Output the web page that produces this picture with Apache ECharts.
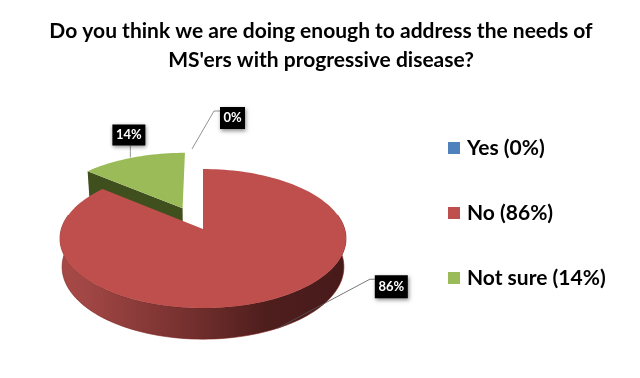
<!DOCTYPE html>
<html><head><meta charset="utf-8">
<style>html,body{margin:0;padding:0;background:#fff}#c{width:640px;height:378px}</style>
<script src="https://cdn.jsdelivr.net/npm/echarts@6/dist/echarts.min.js"></script>
</head><body><div id="c"></div>
<script>
const titleLines = ["Do you think we are doing enough to address the needs of", "MS'ers with progressive disease?"];
const categories = ["Yes (0%)", "No (86%)", "Not sure (14%)"];
const shares = [0, 86, 14];
const colors = ["#4F81BD", "#BE4F4C", "#9BBB59"];
const sideColors = ["#2F4D71", "#8E3432", "#404F1E"];

const explode = [0, 0, 0.353];
const labelLayout = [
  {anchor: [-11, -20], elbow: [22, -38], end: [28, -38], box: [28, -42, 25, 22]},
  {anchor: [7, -2], elbow: [92, -49], end: [97, -49], box: [97, -53, 33, 23]},
  {anchor: [-2.7, 0], elbow: [0, -6], end: [0, -12], box: [-18, -33, 33, 21]}
];
const P = {x0: 203, y0: 229, A: 141.7, B: 68.2, k: 0.1367, drop: 28, sx: 0.985, sy: 1.04};
const total = shares.reduce((a, b) => a + b, 0);

function upper(X, Z) { const w = 1 + P.k * Z; return [P.x0 + P.A * X / w, P.y0 - P.B * Z / w]; }
function lower(X, Z) { const w = 1 + P.k * Z; return [P.x0 + P.sx * P.A * X / w, P.y0 + P.drop - P.sy * P.B * Z / w]; }
function startDeg(i) {
  let s = 0;
  for (let j = 0; j < i; j++) s += shares[j];
  return s / total * 360;
}
function rim(fn, deg, off) {
  const r = deg * Math.PI / 180;
  return fn(Math.sin(r) + off[0], Math.cos(r) + off[1]);
}
function arc(fn, a, b, off) {
  const pts = [], n = Math.max(2, Math.ceil(Math.abs(b - a) / 2));
  for (let i = 0; i <= n; i++) pts.push(rim(fn, a + (b - a) * i / n, off));
  return pts;
}

function renderSlice(idx) {
  return function (params, api) {
    const v = api.value(0);
    const a = startDeg(idx), b = a + v / total * 360, mid = (a + b) / 2;
    const mr = mid * Math.PI / 180;
    const off = [Math.sin(mr) * explode[idx], Math.cos(mr) * explode[idx]];
    const ch = [];
    if (v > 0) {
      if (idx === 1) {
        const front = arc(upper, 78, 282, off).concat(arc(lower, 282, 78, off));
        ch.push({type: 'polygon', shape: {points: front}, style: {
          fill: new echarts.graphic.LinearGradient(0, 0, 1, 0, [
            {offset: 0, color: '#A84A47'}, {offset: 0.1, color: '#A04644'},
            {offset: 0.45, color: '#74302E'}, {offset: 0.72, color: '#4E1E1D'},
            {offset: 1, color: '#471A1A'}]),
          stroke: '#7A1E1C', lineWidth: 0.6}});
      }
      if (idx === 2) {
        const edge = [upper(off[0], off[1]), rim(upper, a, off), rim(lower, a, off), lower(off[0], off[1])];
        ch.push({type: 'polygon', shape: {points: edge}, style: {fill: sideColors[idx]}});
      }
      const face = [upper(off[0], off[1])].concat(arc(upper, a, b, off));
      ch.push({type: 'polygon', shape: {points: face}, style: {fill: colors[idx]}});
    }
    const L = labelLayout[idx];
    const base = idx === 1 ? rim(lower, mid, off) : rim(upper, mid, off);
    const ax = base[0] + L.anchor[0], ay = base[1] + L.anchor[1];
    const pts = [[ax, ay], [ax + L.elbow[0], ay + L.elbow[1]], [ax + L.end[0], ay + L.end[1]]];
    ch.push({type: 'polyline', shape: {points: pts}, style: {stroke: idx === 1 ? '#555' : '#777', lineWidth: 0.8, fill: 'none'}});
    const bx = ax + L.box[0], by = ay + L.box[1], w = L.box[2], h = L.box[3];
    ch.push({type: 'rect', shape: {x: bx, y: by, width: w, height: h},
      style: {fill: '#000', shadowBlur: 4, shadowColor: 'rgba(0,0,0,0.45)', shadowOffsetX: 1, shadowOffsetY: 2}});
    ch.push({type: 'text', style: {x: bx + w / 2, y: by + h / 2, text: v + '%', fill: '#fff',
      font: 'bold 13px Lato', textAlign: 'center', textVerticalAlign: 'middle'}});
    return {type: 'group', children: ch};
  };
}

const chart = echarts.init(document.getElementById('c'), null, {renderer: 'canvas'});
const zOrder = [3, 2, 1];
chart.setOption({
  animation: false,
  backgroundColor: '#fff',
  title: {
    text: titleLines.join('\n'), left: 316, top: 12, textAlign: 'center',
    textStyle: {fontFamily: 'Lato', fontWeight: 'bold', fontSize: 21, color: '#000', lineHeight: 29}
  },
  legend: {
    orient: 'vertical', left: 443, top: 131, itemWidth: 12, itemHeight: 12, itemGap: 41,
    icon: 'rect', selectedMode: false,
    textStyle: {fontFamily: 'Lato', fontWeight: 'bold', fontSize: 21, color: '#000', padding: [0, 0, 0, 2], lineHeight: 24},
    data: categories
  },
  series: categories.map((name, i) => ({
    type: 'custom', name, coordinateSystem: 'none', z: zOrder[i] + 1,
    itemStyle: {color: colors[i]}, silent: true,
    renderItem: renderSlice(i),
    data: [[shares[i]]]
  }))
});
</script></body></html>
